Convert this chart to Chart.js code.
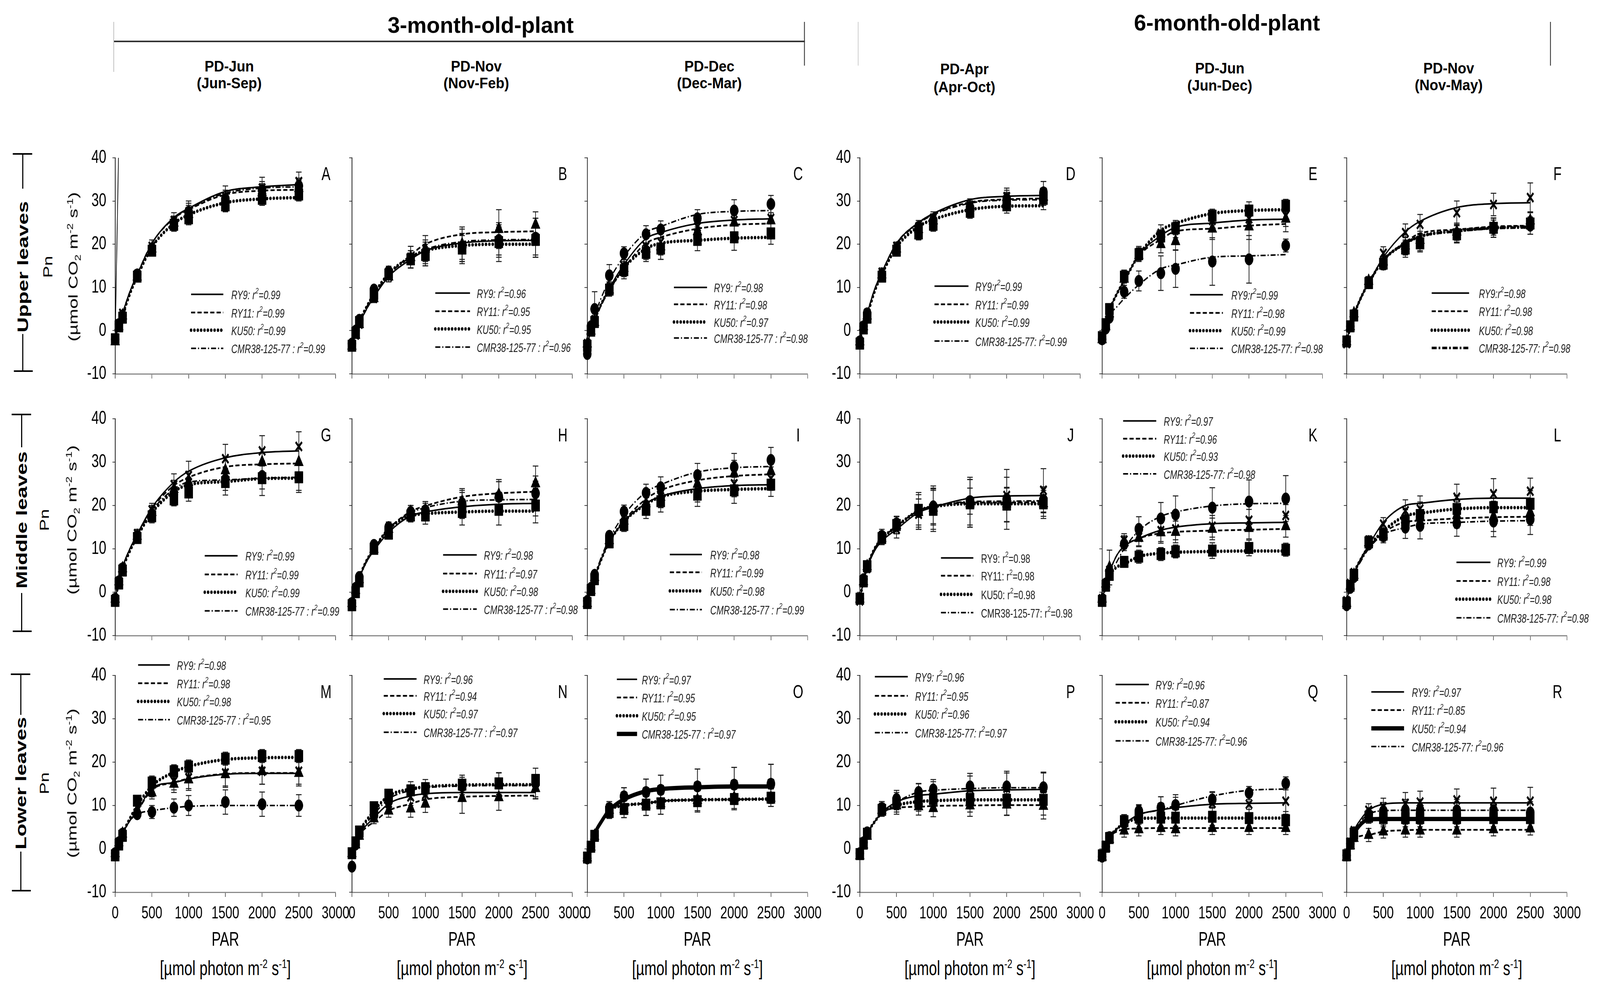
<!DOCTYPE html>
<html><head><meta charset="utf-8">
<script src="https://cdn.jsdelivr.net/npm/chart.js@4.4.1/dist/chart.umd.min.js"></script>
<style>
html,body{margin:0;padding:0;background:#fff;overflow:hidden;}
#stage{position:absolute;left:0;top:0;width:5765px;height:2565px;overflow:hidden;background:#fff;font-family:"Liberation Sans",Arial,sans-serif;color:#000;transform-origin:0 0;}
.box{position:absolute;}
.t{position:absolute;white-space:nowrap;color:#000;transform-origin:center center;}
.ln{position:absolute;}
sup,sub{font-size:62%;line-height:0;}
</style></head><body><div id="stage"></div>
<script>
// ---------------- DATA ----------------
const PAR = [0, 50, 100, 300, 500, 800, 1000, 1500, 2000, 2500];
const FIT_PAR = [0, 50, 100, 200, 300, 500, 800, 1000, 1500, 2000, 2500];
const X_TICKS = [0, 500, 1000, 1500, 2000, 2500, 3000];
const Y_TICKS = [-10, 0, 10, 20, 30, 40];
const CULTIVARS = ['RY9', 'RY11', 'KU50', 'CMR38-125-77'];
const AGE_TITLES = ['3-month-old-plant', '6-month-old-plant'];
const COLUMN_TITLES = ['PD-Jun', 'PD-Nov', 'PD-Dec', 'PD-Apr', 'PD-Jun', 'PD-Nov'];
const COLUMN_PERIODS = ['(Jun-Sep)', '(Nov-Feb)', '(Dec-Mar)', '(Apr-Oct)', '(Jun-Dec)', '(Nov-May)'];
const ROW_TITLES = ['Upper leaves', 'Middle leaves', 'Lower leaves'];
const PANEL_IDS = ['A','B','C','D','E','F','G','H','I','J','K','L','M','N','O','P','Q','R'];

// series order in each block: RY9, RY11, KU50, CMR38-125-77
const A_obs = [[-2,1.5,4,13,19.5,25.5,27.5,31,33,34.5],[-2.5,1,3.5,12.5,19,25,27,30.5,32,33],[-2,1,3,12.5,18.5,24.5,26,29,30.5,31.5],[-2,1.5,3.5,13,19,25,27.5,30.5,32.5,33.5]];
const A_fit = [[-1.5,1.2,4,9,13,20.2,26.2,28.3,32.2,33.3,33.8],[-1.5,1.2,4,9,13,20.2,26,28,31.5,32.4,32.6],[-1.8,0.8,3.5,8.5,12.5,19.3,24.8,26.8,29.6,30.5,30.8],[-1.5,1.2,4,9,13,20.2,26.1,28.2,31.8,33,33.3]];
const A_err = [[0.4,0.5,0.6,1,1.5,1.8,2.5,2.5,2.5,2.2],[0.4,0.5,0.6,1,1.2,1.5,2,2,2,1.8],[0.4,0.5,0.6,1,1.2,1.5,1.5,1.5,1.5,1.5],[0.4,0.5,0.6,1,1.2,1.5,2,2,2,1.8]];
const A_r2 = ['0.99','0.99','0.99','0.99'];
const A_stray_x = [0, 45];
const A_stray_y = [-1.7, 40];

const B_obs = [[-3.5,-1,1.5,7.5,12.5,17,18,19.5,20.5,21.5],[-3.5,-1,1.5,7.5,12.5,17,19,20,23.5,24.5],[-3.5,-0.5,2,8.5,13,16.5,17.5,19,20.5,21],[-3,0,2.5,9.5,13.7,16.5,18,19.5,21,21.5]];
const B_fit = [[-3.5,-1,1.5,5,7.8,12.5,16.5,18.5,20.3,20.8,20.9],[-3.5,-1,1.5,5,7.8,12.8,17.5,20,22.3,22.8,23],[-3.3,-0.5,2,5.5,8.5,13.2,17,18.5,19.7,20,20],[-3.3,-0.5,2,5.5,8.3,13,17,18.8,20.6,21,21.1]];
const B_err = [[0.5,0.5,0.8,1,1.2,2.5,3,4,4.5,4.5],[0.5,0.5,0.8,1,1.2,2.5,3,4,4.5,3],[0.5,0.5,0.8,1,1.2,2,2.5,3,3.5,3.5],[0.5,0.5,0.8,1,1.2,2,2.5,3,3.5,4.5]];
const B_r2 = ['0.96','0.95','0.95','0.96'];

const C_obs = [[-3,0.5,2.5,9.8,14.9,19.5,20.5,24,25.5,26],[-3,0,2,9.5,14.5,19,19.5,23,25,25.5],[-3.5,0,2,9.5,14,18,19,21,21.6,22.5],[-5.4,1,5,12.8,17.9,22.3,23.4,26,27.8,29.3]];
const C_fit = [[-3,0,2.5,6.5,9.8,15.3,21.3,22.7,24.8,25.6,25.9],[-3,0,2.3,6.2,9.3,14.5,20.2,21.6,23.6,24.5,24.8],[-3,0,2.5,6.5,9.5,14.5,19,20.2,20.9,21.4,21.6],[-4,0.5,3.5,8,11.7,17.2,22.7,24.1,26.9,27.6,27.8]];
const C_err = [[0.5,0.5,1,1.5,2,2.5,3,3,3,2.5],[0.5,0.5,1,1.5,2,2.5,3,3,3,3],[0.5,0.5,1,1.5,2,2,2.5,2.5,3,2.5],[0.8,1,4,2.5,1.5,2,2,2,2.5,2]];
const C_r2 = ['0.98','0.98','0.97','0.98'];

const D_obs = [[-2.5,1,4,13.5,19.5,24,26,29,31,32],[-2.5,1,3.5,13,19,23.5,25.5,28.5,30,31],[-3,0.5,3,12.5,18.5,22.5,24.5,27.5,29,30.5],[-2.5,1,4,13,19,24,25.5,28.5,30.5,32]];
const D_fit = [[-2,1.2,4,9.5,13.5,20.2,25,27.1,30.3,31.1,31.3],[-2,1.2,4,9.5,13.5,20.2,25,27,29.7,30.4,30.6],[-2.2,0.8,3.5,9,13,19.3,24.1,25.7,28,28.8,28.9],[-2,1.2,4,9.5,13.5,20,24.8,26.8,29.5,30.2,30.3]];
const D_err = [[0.4,0.5,0.6,1,1,1.5,1.5,1.5,2,2.5],[0.4,0.5,0.6,1,1,1.5,1.5,1.5,2,2],[0.4,0.5,0.6,1,1,1.5,1.5,1.5,1.8,2.5],[0.4,0.5,0.6,1,1,1.5,1.5,1.5,2,2.5]];
const D_r2 = ['0.99','0.99','0.99','0.99'];

const E_obs = [[-2,1.5,4.5,12.5,18,22.5,23.5,25.5,25.9,26.6],[-2,1,4,12,17.5,20,20.7,23.6,24.1,25.9],[-1.5,1.5,5,12.5,17.7,21.8,23.7,26.6,27.8,28.9],[-2,0.5,3,9,11.5,13.3,14.3,16,16.5,19.7]];
const E_fit = [[-1.8,1.4,4.6,8.5,11.5,17.5,22,23.9,24.9,25.6,25.8],[-1.8,1.4,4.6,8.5,11.5,17.3,21.1,23,23.6,24.3,24.7],[-1.8,1.4,4.6,8.5,11.5,17.5,23.2,24.8,27.1,27.8,28],[-1.8,1,3.5,5.5,7.4,10.6,14.3,15.2,17,17.3,17.6]];
const E_err = [[0.5,0.5,0.8,1.5,1.5,2,2,2,2.5,2.5],[0.5,0.5,0.8,1.5,1.5,2,2,2.5,3,3],[0.5,0.5,0.8,1.5,1.5,1.5,1.5,1.5,2,1.5],[0.5,0.5,0.8,1.5,2.3,4,4.3,5.5,5.5,1.5]];
const E_r2 = ['0.99','0.98','0.99','0.98'];

const F_obs = [[-3,0.8,3.6,11.5,17.9,22.7,24.6,27.3,29.2,30.8],[-2.5,1,4,11.5,16,19.7,21,22.9,24.1,25.5],[-2.5,1,3.5,11,15.5,19,20.2,22.3,23.8,24.8],[-2.5,1,3.5,11,15.3,19.5,20.5,22.5,23.6,24.3]];
const F_fit = [[-2.5,0.8,3.6,7.8,11,17,22.9,25.3,28.5,29.4,29.6],[-2.5,0.8,3.6,7.8,11,16.3,20.5,22.5,23.4,24.1,24.3],[-2.5,0.8,3.6,7.8,11,16.3,20.2,21.8,23.1,23.8,24],[-2.5,0.8,3.6,7.8,11,16.3,20.2,21.8,23,23.7,23.9]];
const F_err = [[0.5,0.5,0.8,1,1.5,2,2.3,2.7,2.6,3.4],[0.5,0.5,0.8,1,1.2,2,2,2,2,2],[0.5,0.5,0.8,1,1.2,2,2,2,2.2,2.5],[0.5,0.5,0.8,1,1.2,2,2,2,2,2]];
const F_r2 = ['0.98','0.98','0.98','0.98'];

const G_obs = [[-1.5,2.5,5.5,13.5,19,24.8,26.9,30.8,32.6,33.6],[-1.5,2.5,5.5,13,18.5,23.8,25.4,28.1,30,30],[-2,2,5,12.5,17.5,21.4,23,25.4,26.3,26.5],[-1.5,2.5,5.5,13,18,22.5,24,26,26.8,26.5]];
const G_fit = [[-1.6,2.5,5.8,10,13.4,19.5,25.4,27.9,31,32.2,32.6],[-1.6,2.5,5.8,10,13.4,19.3,24.6,26.5,28.9,29.5,29.7],[-1.6,2.2,5.3,9.5,12.8,18.3,23.2,24.8,25.5,26.2,26.3],[-1.6,2.5,5.8,10,13.2,18.8,23.8,25.4,25.9,26.3,26.5]];
const G_err = [[0.5,0.5,0.8,1,1.5,2.5,3.3,3.3,3.5,3.4],[0.5,0.5,0.8,1,1.5,2,2.5,3,3,3],[0.5,0.5,0.8,1,1.5,1.5,2,3,4,3.5],[0.5,0.5,0.8,1,1.5,1.5,2,2.5,3,3]];
const G_r2 = ['0.99','0.99','0.99','0.99'];

const H_obs = [[-2.5,0.5,3,10,14,18,18.5,20,22,21.6],[-2.5,0.5,3,10,14.6,18.5,18.9,20.9,22.5,25.1],[-3,0,2.5,10,13.5,17.7,17.7,18.5,19,20],[-2.5,1,3.5,10.9,15,18.5,18.9,20.5,22,22.8]];
const H_fit = [[-2.5,0.6,3.2,7,9.6,13.8,17.6,18.5,19.7,20.3,20.5],[-2.5,0.6,3.4,7.3,10,14.6,18.6,19.9,22,22.8,23.2],[-2.5,0.6,3.4,7.3,10,14.6,17.6,18.1,18.5,18.7,18.7],[-2.5,0.6,3.4,7.3,10,14.6,18.3,19.5,21,21.3,21.4]];
const H_err = [[0.5,0.5,0.8,1,1.2,1.5,2,3,3.5,4],[0.5,0.5,0.8,1,1.2,1.5,2,3,3.5,4],[0.5,0.5,0.8,1,1.2,1.5,2,3,3.5,4],[0.5,0.5,0.8,1,1.2,1.5,2,3,3.5,4]];
const H_r2 = ['0.98','0.97','0.98','0.98'];

const I_obs = [[-2.5,0.5,3.5,12,16,20,22,23.5,25,26.2],[-2.5,0.5,3.5,12,16.5,20.5,22,25,27.4,27.9],[-2.5,0.5,3,11.5,15.5,19,21,22.5,23.5,24.8],[-2,1,4,13,18.6,22.9,24.2,27,28.9,30.5]];
const I_fit = [[-2.4,0.8,3.4,8,11.6,16.3,20.5,22.1,23.9,24.6,24.8],[-2.4,0.8,3.4,8,11.6,16.5,21.5,23.5,25.8,26.8,27.2],[-2.4,0.8,3.4,8,11.6,16.3,20.3,22,23.3,23.7,23.9],[-2.4,0.8,3.6,8.5,12.3,17.8,23.1,24.8,27.7,28.7,29]];
const I_err = [[0.5,0.5,0.8,1,1.5,2,2.5,2.7,3,2.7],[0.5,0.5,0.8,1,1.5,2,2.5,2.7,3,2.7],[0.5,0.5,0.8,1,1.5,2,2.5,2.7,3,2.7],[0.5,0.5,0.8,1,1.5,2,2.4,2.7,3.1,2.9]];
const I_r2 = ['0.98','0.99','0.98','0.99'];

const J_obs = [[-2,2.5,5.5,12.5,14.5,18,19.5,21,22.3,23.5],[-1.5,2.5,6,12.5,15.5,18.5,19.5,20.5,20.5,20.5],[-1.5,2.5,6,12.5,15.5,19,19,20.5,20.2,20.5],[-1.5,3,6,13,15.9,18.5,19.8,21,21.5,21.3]];
const J_fit = [[-1.7,2.4,5.5,9.5,11.8,14.5,18.4,19.6,21.7,22.2,22.3],[-1.7,2.6,5.8,10,12.3,15.2,18.8,19.8,20.7,20.7,20.8],[-1.7,2.6,5.8,10,12.3,15.2,18.8,19.7,20.4,20.4,20.4],[-1.7,2.6,5.8,10,12.3,15.2,18.9,19.9,20.9,21,21.1]];
const J_err = [[0.5,0.8,1,1.5,2,3.5,4,5.5,6,5],[0.5,0.8,1,1.5,2,4,5,5.5,6,3],[0.5,0.8,1,1.5,2,4,5,5.5,4,3.5],[0.5,0.8,1,1.5,1.5,3,4,3,2.5,3]];
const J_r2 = ['0.98','0.98','0.98','0.98'];

const K_obs = [[-1.5,2,5,12,12.7,14.2,14.6,15.2,16.6,17.7],[-1.5,2,5.7,11.5,12.5,13.8,13.9,14.6,14.8,15.2],[-2,1.5,4,7,8.2,8.8,9.4,9.6,10.2,9.8],[-2,2,4.5,11.1,14.6,17,17.9,19.5,20.9,21.6]];
const K_fit = [[-1.8,1.8,4.6,8.5,10.6,12.4,14.3,15,15.8,16,16.1],[-1.8,1.8,4.6,8.5,10.6,12.4,13.6,13.9,14.2,14.4,14.6],[-1.8,1.5,3.8,5.8,6.5,8.2,9,9.2,9.4,9.5,9.5],[-1.8,1.5,3.8,7,10,14.2,17.5,18.5,19.9,20.4,20.5]];
const K_err = [[0.5,0.5,0.8,1.5,2,2.5,2.5,2.5,2.5,2.5],[0.5,0.5,4,1.5,2,2.5,2.5,2.5,2.5,2.5],[0.5,0.5,0.8,1,1.5,1.5,1.5,1.8,1.8,1.5],[0.5,0.5,0.8,1.5,2.8,3.7,4.3,4.6,5,5.3]];
const K_r2 = ['0.97','0.96','0.93','0.98'];

const L_obs = [[-2,2,4.5,12,15.7,18.8,19.2,21.9,22.7,23.3],[-2.5,1.5,4,11.5,13.3,16.8,17.5,17.8,17.5,18.4],[-2.5,1.5,4,11.5,13.3,16.5,17.8,19.2,19.6,20.4],[-3,1,3.5,11,12.9,14.9,15.3,15.9,16.3,16.8]];
const L_fit = [[-2.2,1.7,4.4,8,10.8,16.1,20,20.5,21.4,21.7,21.7],[-2.2,1.7,4.4,7.6,10.3,13.7,16.2,16.5,17,17.3,17.4],[-2.2,1.7,4.4,7.8,10.5,14.1,17.6,18.2,19.2,19.5,19.5],[-2.2,1.7,4.2,7.3,10,13.3,14.9,15.7,16.1,16.4,16.5]];
const L_err = [[0.5,0.5,0.8,1,1.5,2.5,3,3,3.5,3],[0.5,0.5,0.8,1,1.5,2.5,3,3,3.5,3],[0.5,0.5,0.8,1,1.5,2.5,3,3,3.5,3],[0.5,0.5,0.8,1,1.5,2.5,3,3,3.5,3.5]];
const L_r2 = ['0.99','0.98','0.98','0.98'];

const M_obs = [[-1,1.5,3.5,9.5,13.5,15.6,16.4,17.5,17.9,17.9],[-1,1.5,3.5,9,13,15,16,17.2,17.9,17.5],[-1.5,1,3,11.1,15.3,17.9,19,20.8,21.4,21.4],[-1,1.5,3.5,8,8.5,9.5,10,10.8,10.3,10]];
const M_fit = [[-1.2,1.4,3.5,6.5,8.7,14,15.3,16.1,17.2,17.4,17.4],[-1.2,1.4,3.5,6.5,8.7,13.6,15.3,16.2,17.3,17.5,17.5],[-1.2,1.4,3.5,7,10,14.5,17.7,19,20.6,21,21.1],[-1.2,1.4,3.5,6.5,8,8.8,9.5,9.8,10,10,10]];
const M_err = [[0.5,0.5,0.8,1,1.5,2,2.5,3,3,3],[0.5,0.5,0.8,1,1.5,2,2.5,3,3,3],[0.5,0.5,0.8,1,1.5,1.5,1.5,1.5,1.5,1.5],[0.5,0.5,0.8,1,1.5,2,2.3,2.8,2.8,2.5]];
const M_r2 = ['0.98','0.98','0.98','0.95'];

const N_obs = [[-1,1.5,3.5,7.7,10.5,12,12.5,14.5,15,14.5],[-1,1,3,7,8.8,9.3,10.4,11.7,11.9,14],[-1,1.5,4,9.6,12.5,13.5,14,14.8,15.1,15.9],[-4.1,1,3.5,7.7,11,13.5,14,14.5,15.1,15.1]];
const N_fit = [[-1,1.6,3.6,5.5,7.2,10.4,12.2,12.7,13,13,13],[-1,1.3,3.2,5,6.2,8.8,10.4,11.4,12,12.2,12.3],[-1,1.8,4,6.6,8.8,12.2,13.8,14.3,14.7,14.8,14.8],[-1.5,1.4,3.5,6,8,11.5,13.5,14.1,14.5,14.6,14.6]];
const N_err = [[0.5,0.5,0.8,1.2,1.5,2,2,2.5,2.5,2.5],[0.5,0.5,0.8,1.2,1.5,2,2,3.5,3,2.5],[0.5,0.5,0.8,1,1,1,1,1,1,1],[0.5,0.5,0.8,1.2,1.5,2,2,2,2.5,3.5]];
const N_r2 = ['0.96','0.94','0.97','0.97'];

const O_obs = [[-2,0.5,3,9.4,12.1,13.1,13.6,14.4,14.8,15],[-2,0.5,3,9,9.2,10.2,10.5,11.3,11.8,11.8],[-2,0.5,3,8.5,9.2,10.2,10.5,11,11.5,11.8],[-2.2,0.5,3,9.4,12.1,13.1,13.6,14.4,14.8,15]];
const O_fit = [[-2,1,3.5,6.5,8.9,11.5,13.4,13.9,14.3,14.4,14.4],[-2,1,3.5,6.5,8.9,10,10.5,11,11.3,11.4,11.5],[-2,1,3.5,6.5,8.9,10,10.5,11,11.3,11.4,11.5],[-2,1,3.5,6.5,8.9,11.4,13.3,13.8,14.2,14.4,14.4]];
const O_err = [[0.5,0.5,0.8,1.5,2,3,3.4,4,4,4.5],[0.5,0.5,0.8,1.5,2,2.5,2.5,2.5,2.5,2],[0.5,0.5,0.8,1.5,2,2.5,2.5,2.5,2.5,2],[0.5,0.5,0.8,1.5,2,3,3.4,4,4,4.5]];
const O_r2 = ['0.97','0.95','0.95','0.97'];

const P_obs = [[-1.2,1.5,3.6,9.4,11,12.5,13,13.8,14,14],[-1.5,1,3,9,10,9.8,9.4,10,10.2,9.9],[-1.2,1.2,3.5,9,10.5,11.2,11.5,11.5,11.3,11.3],[-1,1.5,3.8,9.4,11.5,13.1,13.7,14.4,14.4,14.2]];
const P_fit = [[-1.2,1.5,3.6,6.2,8.4,10.8,12.3,12.6,13.4,13.6,13.7],[-1.2,1.5,3.6,6.2,8.2,9.5,9.7,9.9,10,10.1,10.1],[-1.2,1.5,3.6,6.2,8.3,10,10.9,11.1,11.3,11.3,11.3],[-1.2,1.5,3.6,6.2,8.4,10.8,13.1,13.5,13.9,14.1,14.1]];
const P_err = [[0.5,0.5,0.8,1.5,2,2.5,2.5,3,3.5,3.5],[0.5,0.5,0.8,1.5,2,2,2,2.5,2.5,3],[0.5,0.5,0.8,1.5,2,2.5,2.5,3,3.5,3.5],[0.5,0.5,0.8,1.5,2,2,2.3,3,3.5,3.5]];
const P_r2 = ['0.96','0.95','0.96','0.97'];

const Q_obs = [[-1.5,0.8,2.8,6,8.5,9.5,10,10.5,10.3,11],[-1.8,0.3,2.3,4.2,4.5,4.8,4.5,4.8,4.8,4.8],[-1.5,0.5,2.5,6.4,7.2,7.2,7.2,7.4,7.1,6.6],[-1.8,0.5,2.7,6.4,8.7,9.5,10.1,11.4,12.9,15.1]];
const Q_fit = [[-1.5,0.6,2.6,4.6,5.8,7.9,9,9.5,10.3,10.5,10.6],[-1.5,0.6,2.6,4,4.5,4.7,4.8,4.8,4.8,4.8,4.8],[-1.5,0.6,2.6,4.6,5.8,7,7.1,7.1,7.1,7.1,7.1],[-1.5,0.6,2.6,4.6,5.8,7.9,9,10,12.2,13.5,13.8]];
const Q_err = [[0.5,0.5,0.8,1.5,1.5,2.5,2.5,2.5,2.5,3],[0.5,0.5,0.8,1.5,1.5,1.5,1.5,1.5,1.5,1.5],[0.5,0.5,0.8,1.5,1.5,2,2,2,2,2],[0.5,0.5,0.8,1.5,1.5,2.5,1.8,1.8,1.5,1.5]];
const Q_r2 = ['0.96','0.87','0.94','0.96'];

const R_obs = [[-1.5,1.5,4.2,8.9,9.7,10.5,10.8,11.3,11,11],[-1.8,0.8,2.5,3.2,4,4.2,4.2,4.2,4.5,4.7],[-1.5,1.2,3.5,7.4,7.1,7.1,7.1,7.1,7.1,7.1],[-1.5,1.2,3.8,8,8.7,8.9,8.9,8.9,8.9,8.4]];
const R_fit = [[-1.5,1.5,4.2,7,8.9,10.3,10.6,10.6,10.6,10.6,10.6],[-1.5,0.8,2.3,3,3.2,4,4.3,4.4,4.4,4.4,4.4],[-1.5,1.2,3.4,5.8,6.8,6.9,6.9,6.9,6.9,6.9,6.9],[-1.5,1.2,3.6,6.5,8,8.8,8.9,8.9,8.9,8.9,8.9]];
const R_err = [[0.5,0.5,0.8,1.5,2,2.5,2.5,2.5,3,3.2],[0.5,0.5,0.8,1.5,1.5,1.5,1.5,1.5,1.5,1.5],[0.5,0.5,0.8,1.5,2,2,2,2,2,2],[0.5,0.5,0.8,1.5,2,2.5,2.5,2.5,2.5,2.5]];
const R_r2 = ['0.97','0.85','0.94','0.96'];

// ---------------- LAYOUT / STYLE ----------------
const STAGE_W = 5765, STAGE_H = 2565;
const COL_X = [415, 1268, 2116, 3098, 3971, 4852];
const ROW_TOP = [404, 1072, 1729];
const PLOT_H = [553, 555, 555];
const PLOT_W = 794;
const PAD_L = 150, PAD_T = 70, PAD_R = 80, PAD_B = 130;
const FONT = '"Liberation Sans", Arial, sans-serif';

const LINE_STYLES = {
  solid:{dash:[],width:4,cap:'butt'},
  dashed:{dash:[15,8],width:4.5,cap:'butt'},
  dotted:{dash:[0.1,12],width:9,cap:'round'},
  dashdot:{dash:[18,7,4,7],width:4,cap:'butt'},
  solidThick:{dash:[],width:11,cap:'butt'},
  dashdotThick:{dash:[18,7,6,7],width:6.5,cap:'butt'}
};
const SERIES_LINE = ['solid','dashed','dotted','dashdot'];
const SERIES_MARK = ['crossRot','triangle','rect','circle'];
const MARK_SIZE = {crossRot:16, triangle:19, rect:21, circle:15};
const STYLE_OVERRIDE = {F:{3:'dashdotThick'}, O:{3:'solidThick'}, R:{2:'solidThick'}};
const UPRIGHT_LEGEND = {J:true};
const SEP_A = [': ', ': ', ': ', ' : '];
const SEP_D = [':', ': ', ': ', ': '];
const SEP_J = [': ', ': ', ': ', ': '];
const LEGEND_SEP = {A:SEP_A,B:SEP_A,C:SEP_A,D:SEP_D,E:SEP_D,F:SEP_D,G:SEP_A,H:SEP_A,I:SEP_A,J:SEP_J,K:SEP_J,L:SEP_J,M:SEP_A,N:SEP_A,O:SEP_A,P:SEP_J,Q:SEP_J,R:SEP_J};
// legend placement in data units: line start, line end, text start, row y values
const LEGEND_POS = {
  A:[1033,1472,1580,[8.4,4.2,0.1,-4.1]], B:[1135,1607,1700,[8.7,4.5,0.4,-3.8]], C:[1180,1630,1724,[10,6.1,2,-1.7]],
  D:[1017,1479,1573,[10.3,6.1,2,-2.4]], E:[1196,1645,1759,[8.3,4.1,0,-4.1]], F:[1158,1667,1800,[8.7,4.5,0.1,-4]],
  G:[1219,1667,1773,[8.4,4.1,0,-4.3]], H:[1241,1699,1797,[8.6,4.3,0.2,-3.9]], I:[1124,1560,1674,[8.7,4.6,0.3,-4]],
  J:[1105,1545,1650,[7.9,3.8,-0.5,-4.7]], K:[286,737,839,[39.5,35.4,31.4,27.3]], L:[1495,1958,2051,[6.9,2.6,-1.6,-5.9]],
  M:[312,744,840,[42.4,38.2,34,29.8]], N:[433,880,976,[39.2,35.3,31.2,26.9]], O:[403,678,742,[39.1,34.9,30.7,26.5]],
  P:[205,653,753,[39.7,35.3,31.1,26.8]], Q:[184,636,728,[37.9,33.7,29.3,24.9]], R:[336,782,888,[36.2,32,27.8,23.6]]
};
const LETTER_POS = [2870, 36];
const Y_LABEL_COLS = [0, 3];

const DATA = {A:[A_obs,A_fit,A_err,A_r2],B:[B_obs,B_fit,B_err,B_r2],C:[C_obs,C_fit,C_err,C_r2],D:[D_obs,D_fit,D_err,D_r2],E:[E_obs,E_fit,E_err,E_r2],F:[F_obs,F_fit,F_err,F_r2],G:[G_obs,G_fit,G_err,G_r2],H:[H_obs,H_fit,H_err,H_r2],I:[I_obs,I_fit,I_err,I_r2],J:[J_obs,J_fit,J_err,J_r2],K:[K_obs,K_fit,K_err,K_r2],L:[L_obs,L_fit,L_err,L_r2],M:[M_obs,M_fit,M_err,M_r2],N:[N_obs,N_fit,N_err,N_r2],O:[O_obs,O_fit,O_err,O_r2],P:[P_obs,P_fit,P_err,P_r2],Q:[Q_obs,Q_fit,Q_err,Q_r2],R:[R_obs,R_fit,R_err,R_r2]};

// ---------------- BUILD ----------------
const stage = document.getElementById('stage');
// the browser viewport may be narrower than the figure: fit the whole figure into it
(function fitStage(){
  const vw = window.innerWidth || STAGE_W, vh = window.innerHeight || STAGE_H;
  const sx = Math.min(1, vw/STAGE_W), sy = Math.min(1, vh/STAGE_H);
  stage.style.transform = 'scale(' + sx + ',' + sy + ')';
})();
Chart.defaults.font.family = FONT;
Chart.defaults.color = '#000';

function styleFor(id, i){
  const o = STYLE_OVERRIDE[id];
  return LINE_STYLES[(o && o[i]) || SERIES_LINE[i]];
}

function makePanel(id, idx){
  const row = Math.floor(idx/6), col = idx%6;
  const [obs, fit, err, r2] = DATA[id];
  const w = PAD_L + PLOT_W + PAD_R, h = PAD_T + PLOT_H[row] + PAD_B;
  const div = document.createElement('div');
  div.className = 'box';
  div.style.left = (COL_X[col]-PAD_L)+'px';
  div.style.top = (ROW_TOP[row]-PAD_T)+'px';
  div.style.width = w+'px'; div.style.height = h+'px';
  const cv = document.createElement('canvas');
  cv.width = w; cv.height = h; cv.style.width = w+'px'; cv.style.height = h+'px';
  div.appendChild(cv); stage.appendChild(div);

  const datasets = [];
  for (let i=0;i<4;i++){
    const ps = SERIES_MARK[i];
    datasets.push({
      label: CULTIVARS[i], type:'scatter', order:1, clip:false,
      data: PAR.map((x,j)=>({x:x, y:obs[i][j]})),
      errors: err[i],
      showLine:false, pointStyle: ps, pointRadius: MARK_SIZE[ps], pointHoverRadius: MARK_SIZE[ps],
      backgroundColor:'#000', borderColor:'#000', pointBorderWidth: ps==='crossRot'?6:1
    });
  }
  for (let i=0;i<4;i++){
    const st = styleFor(id,i);
    datasets.push({
      label: CULTIVARS[i]+' fit', type:'scatter', order:2, clip:false,
      data: FIT_PAR.map((x,j)=>({x:x, y:fit[i][j]})),
      showLine:true, pointRadius:0, pointHoverRadius:0,
      borderColor:'#000', backgroundColor:'#000', borderWidth: st.width, borderDash: st.dash,
      borderCapStyle: st.cap, cubicInterpolationMode:'monotone'
    });
  }
  if (id==='A'){
    datasets.push({label:'', type:'scatter', order:3, clip:false,
      data: A_stray_x.map((x,j)=>({x:x,y:A_stray_y[j]})), showLine:true, pointRadius:0,
      borderColor:'#000', borderWidth:2.5});
  }

  const errPlugin = {
    id:'err'+id,
    beforeDatasetsDraw(chart){
      const ctx = chart.ctx, xs = chart.scales.x, ys = chart.scales.y;
      ctx.save(); ctx.strokeStyle='#1a1a1a'; ctx.lineWidth=2.5; ctx.setLineDash([]);
      chart.data.datasets.forEach(ds=>{
        if(!ds.errors) return;
        ds.data.forEach((pt,j)=>{
          const e = ds.errors[j]; if(!e) return;
          const px = xs.getPixelForValue(pt.x);
          const y1 = ys.getPixelForValue(pt.y+e), y0 = ys.getPixelForValue(pt.y-e);
          ctx.beginPath();
          ctx.moveTo(px,y0); ctx.lineTo(px,y1);
          ctx.moveTo(px-10,y1); ctx.lineTo(px+10,y1);
          ctx.moveTo(px-10,y0); ctx.lineTo(px+10,y0);
          ctx.stroke();
        });
      });
      ctx.restore();
    }
  };
  const legPlugin = {
    id:'leg'+id,
    afterDraw(chart){
      const ctx = chart.ctx, xs = chart.scales.x, ys = chart.scales.y;
      const [x0,x1,xt,yv] = LEGEND_POS[id];
      const sep = LEGEND_SEP[id];
      const it = UPRIGHT_LEGEND[id] ? '' : 'italic ';
      ctx.save();
      for (let i=0;i<4;i++){
        const st = styleFor(id,i);
        const py = ys.getPixelForValue(yv[i]);
        ctx.beginPath(); ctx.setLineDash(st.dash); ctx.lineWidth = st.width; ctx.lineCap = st.cap; ctx.strokeStyle='#000';
        ctx.moveTo(xs.getPixelForValue(x0), py); ctx.lineTo(xs.getPixelForValue(x1), py); ctx.stroke();
        ctx.setLineDash([]); ctx.lineCap='butt';
        let tx = xs.getPixelForValue(xt); const ty = py+4;
        ctx.fillStyle='#1a1a1a'; ctx.textBaseline='middle'; ctx.textAlign='left';
        const pre = CULTIVARS[i]+sep[i]+'r', post='='+r2[i];
        ctx.font = it+'31px '+FONT; ctx.fillText(pre, tx, ty); tx += ctx.measureText(pre).width;
        ctx.font = it+'21px '+FONT; ctx.fillText('2', tx, ty-12); tx += ctx.measureText('2').width;
        ctx.font = it+'31px '+FONT; ctx.fillText(post, tx, ty);
      }
      // panel letter
      ctx.font = '48px '+FONT; ctx.fillStyle='#000'; ctx.textAlign='center'; ctx.textBaseline='middle';
      ctx.fillText(id, xs.getPixelForValue(LETTER_POS[0]), ys.getPixelForValue(LETTER_POS[1]));
      ctx.restore();
    }
  };

  const showY = Y_LABEL_COLS.includes(col), showX = row===2;
  new Chart(cv, {
    type:'scatter',
    data:{datasets},
    options:{
      responsive:false, animation:false, devicePixelRatio:1,
      layout:{padding:{left:0, top:PAD_T, right:PAD_R, bottom:0}},
      plugins:{legend:{display:false}, tooltip:{enabled:false}},
      scales:{
        x:{type:'linear', min:X_TICKS[0], max:X_TICKS[X_TICKS.length-1],
          afterBuildTicks:s=>{s.ticks = X_TICKS.map(v=>({value:v}));},
          ticks:{display:showX, font:{size:45}, color:'#000', padding:16, maxRotation:0, autoSkip:false,
                 callback:v=>String(v)},
          grid:{drawOnChartArea:false, drawTicks:true, tickLength:12, color:'#444', lineWidth:2},
          border:{display:true, color:'#8a8a8a', width:3},
          afterFit:s=>{s.height = PAD_B;}},
        y:{type:'linear', min:Y_TICKS[0], max:Y_TICKS[Y_TICKS.length-1],
          afterBuildTicks:s=>{s.ticks = Y_TICKS.map(v=>({value:v}));},
          ticks:{display:showY, font:{size:48}, color:'#000', padding:22, callback:v=>String(v)},
          grid:{drawOnChartArea:false, drawTicks:true, tickLength:10, color:'#444', lineWidth:2},
          border:{display:true, color:'#111', width:2.5},
          afterFit:s=>{s.width = PAD_L;}}
      }
    },
    plugins:[errPlugin, legPlugin]
  });
}
PANEL_IDS.forEach((id,i)=>makePanel(id,i));

// ---------------- TEXT & DECORATION ----------------
function addText(html, cx, baseline, size, opts){
  opts = opts||{};
  const d = document.createElement('div'); d.className='t';
  d.innerHTML = html;
  const sx = opts.sx||1;
  d.style.left = cx+'px';
  d.style.top = (baseline - 0.8465*size)+'px';
  d.style.fontSize = size+'px'; d.style.lineHeight = size+'px';
  d.style.fontWeight = opts.bold ? 'bold' : 'normal';
  d.style.transform = 'translateX(-50%) scaleX('+sx+')';
  stage.appendChild(d);
}
function addCentered(html, cx, cy, size, opts){
  opts = opts||{};
  const d = document.createElement('div'); d.className='t';
  d.innerHTML = html;
  d.style.left = cx+'px'; d.style.top = cy+'px';
  d.style.fontSize = size+'px'; d.style.lineHeight = size+'px';
  d.style.fontWeight = opts.bold ? 'bold' : 'normal';
  d.style.transform = 'translate(-50%,-50%)' + (opts.rot ? ' rotate('+opts.rot+'deg)' : '');
  stage.appendChild(d);
}
function addLine(x, y, w, h, color){
  const d = document.createElement('div'); d.className='ln';
  d.style.left=x+'px'; d.style.top=y+'px'; d.style.width=w+'px'; d.style.height=h+'px'; d.style.background=color;
  stage.appendChild(d);
}

// age headers
addText(AGE_TITLES[0], 1732, 84, 58, {bold:true, sx:1.36});
addText(AGE_TITLES[1], 4421, 78, 58, {bold:true, sx:1.36});
addLine(410, 104, 2490, 4, '#333');
addLine(409, 56, 2, 128, '#aaa');
addLine(2897, 56, 3, 112, '#333');
addLine(3091, 56, 2, 112, '#bbb');
addLine(5585, 56, 3, 112, '#333');

// column headers
const COL_CX = [826, 1716, 2556, 3475, 4395, 5220];
const COL_B1 = [183, 183, 183, 190, 188, 188];
const COL_B2 = [226, 226, 226, 236, 232, 231];
COLUMN_TITLES.forEach((t,i)=>{
  addText(t, COL_CX[i], COL_B1[i], 39, {bold:true, sx:1.3});
  addText(COLUMN_PERIODS[i], COL_CX[i], COL_B2[i], 39, {bold:true, sx:1.3});
});

// row labels with brackets
const ROW_CY = [683, 1331, 2005];
const ROW_LX = [82, 78, 75];
const BR_TOP = [394, 1061, 1726];
const BR_BOT = [950, 1616, 2280];
const BR_GAP = [[483, 855],[1145, 1518],[1830, 2180]];
ROW_TITLES.forEach((t,r)=>{
  addCentered(t, ROW_LX[r], ROW_CY[r], 54, {bold:true, rot:-90});
  const vx = ROW_LX[r]-2;
  addLine(vx, BR_TOP[r], 4, BR_GAP[r][0]-BR_TOP[r], '#000');
  addLine(vx, BR_GAP[r][1], 4, BR_BOT[r]-BR_GAP[r][1], '#000');
  addLine(vx-34, BR_TOP[r]-2, 70, 4, '#000');
  addLine(vx-30, BR_BOT[r]-2, 68, 4, '#000');
  // y-axis titles
  addCentered('Pn', r===0?172:160, ROW_CY[r], 46, {rot:-90});
  addCentered('(µmol CO<sub>2</sub> m<sup>-2</sup> s<sup>-1</sup>)', r===0?264:260, ROW_CY[r], 48, {rot:-90});
});

// x-axis titles under bottom row
COL_X.forEach(x=>{
  addCentered('PAR', x+PLOT_W/2, 2404, 50);
  addCentered('[µmol photon m<sup>-2</sup> s<sup>-1</sup>]', x+PLOT_W/2, 2478, 52);
});
</script>
</body></html>
